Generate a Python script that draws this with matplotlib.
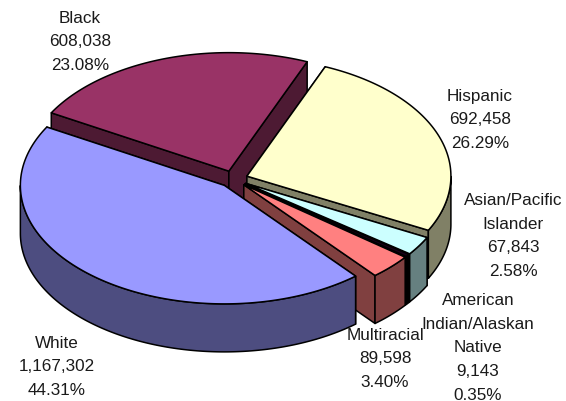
"""Exploded 3D-style pie of enrollment by race and ethnicity."""
import matplotlib
matplotlib.use("Agg")
import matplotlib.pyplot as plt
import numpy as np
from matplotlib.patches import Polygon

plt.rcParams["font.family"] = ["Liberation Sans", "DejaVu Sans"]

# listed clockwise, first slice starts at START_ANGLE
groups = ["Asian/Pacific\nIslander", "American\nIndian/Alaskan\nNative", "Multiracial",
          "White", "Black", "Hispanic"]
values = [67843, 9143, 89598, 1167302, 608038, 692458]
top_colors = ["#CCFFFF", "#1A001A", "#FF8080", "#9999FF", "#993366", "#FFFFCC"]
side_colors = ["#668080", "#000000", "#804040", "#4D4D80", "#4D1A33", "#808066"]
label_centers = [(513, 236), (478, 348), (385, 359), (57, 367), (80, 42), (480, 120)]

# back-to-front, so nearer slices cover the ones behind
draw_order = ["Black", "Hispanic", "Asian/Pacific\nIslander",
              "American\nIndian/Alaskan\nNative", "Multiracial", "White"]

START_ANGLE = 27.2
CENTER = (233.5, 180.0)
RADIUS_X = 204.0
RADIUS_Y = 118.5
DEPTH = 48.0
EXPLODE = 0.07
LINE = 1.1

total = sum(values)
spans = [v / total * 360 for v in values]
starts = START_ANGLE + np.concatenate([[0], np.cumsum(spans)[:-1]])


def add_poly(axis, points, color, zorder):
    axis.add_patch(Polygon(points, closed=True, facecolor=color, edgecolor="black",
                           linewidth=LINE, joinstyle="round", zorder=zorder))


def draw_slice(axis, start, span, top, side, zorder):
    mid = np.radians(start + span / 2)
    apex_x = CENTER[0] + EXPLODE * RADIUS_X * np.cos(mid)
    apex_y = CENTER[1] + EXPLODE * RADIUS_Y * np.sin(mid)
    theta = np.radians(np.linspace(start, start + span, 400))
    arc_x = apex_x + RADIUS_X * np.cos(theta)
    arc_y = apex_y + RADIUS_Y * np.sin(theta)

    # radial walls, mostly hidden by the top face
    for i in (0, -1):
        add_poly(axis, [(apex_x, apex_y), (arc_x[i], arc_y[i]),
                        (arc_x[i], arc_y[i] + DEPTH), (apex_x, apex_y + DEPTH)], side, zorder)

    # outer wall, only the part facing the viewer
    front = np.sin(theta) >= 0
    if front.any():
        rim_x, rim_y = arc_x[front], arc_y[front]
        rim = np.column_stack([np.r_[rim_x, rim_x[::-1]], np.r_[rim_y, rim_y[::-1] + DEPTH]])
        add_poly(axis, rim, side, zorder)

    add_poly(axis, np.column_stack([np.r_[apex_x, arc_x], np.r_[apex_y, arc_y]]), top, zorder)


fig = plt.figure(figsize=(5.66, 4.02), dpi=100)
ax = fig.add_axes([0, 0, 1, 1])
ax.set_xlim(0, 566)
ax.set_ylim(402, 0)
ax.axis("off")

for order, name in enumerate(draw_order):
    i = groups.index(name)
    draw_slice(ax, starts[i], spans[i], top_colors[i], side_colors[i], order + 1)

for name, value, (x, y) in zip(groups, values, label_centers):
    ax.text(x, y, f"{name}\n{value:,}\n{value / total * 100:.2f}%", ha="center", va="center",
            fontsize=12.3, color="#1a1a1a", linespacing=1.72, zorder=20)

fig.savefig("out.png", dpi=100)
